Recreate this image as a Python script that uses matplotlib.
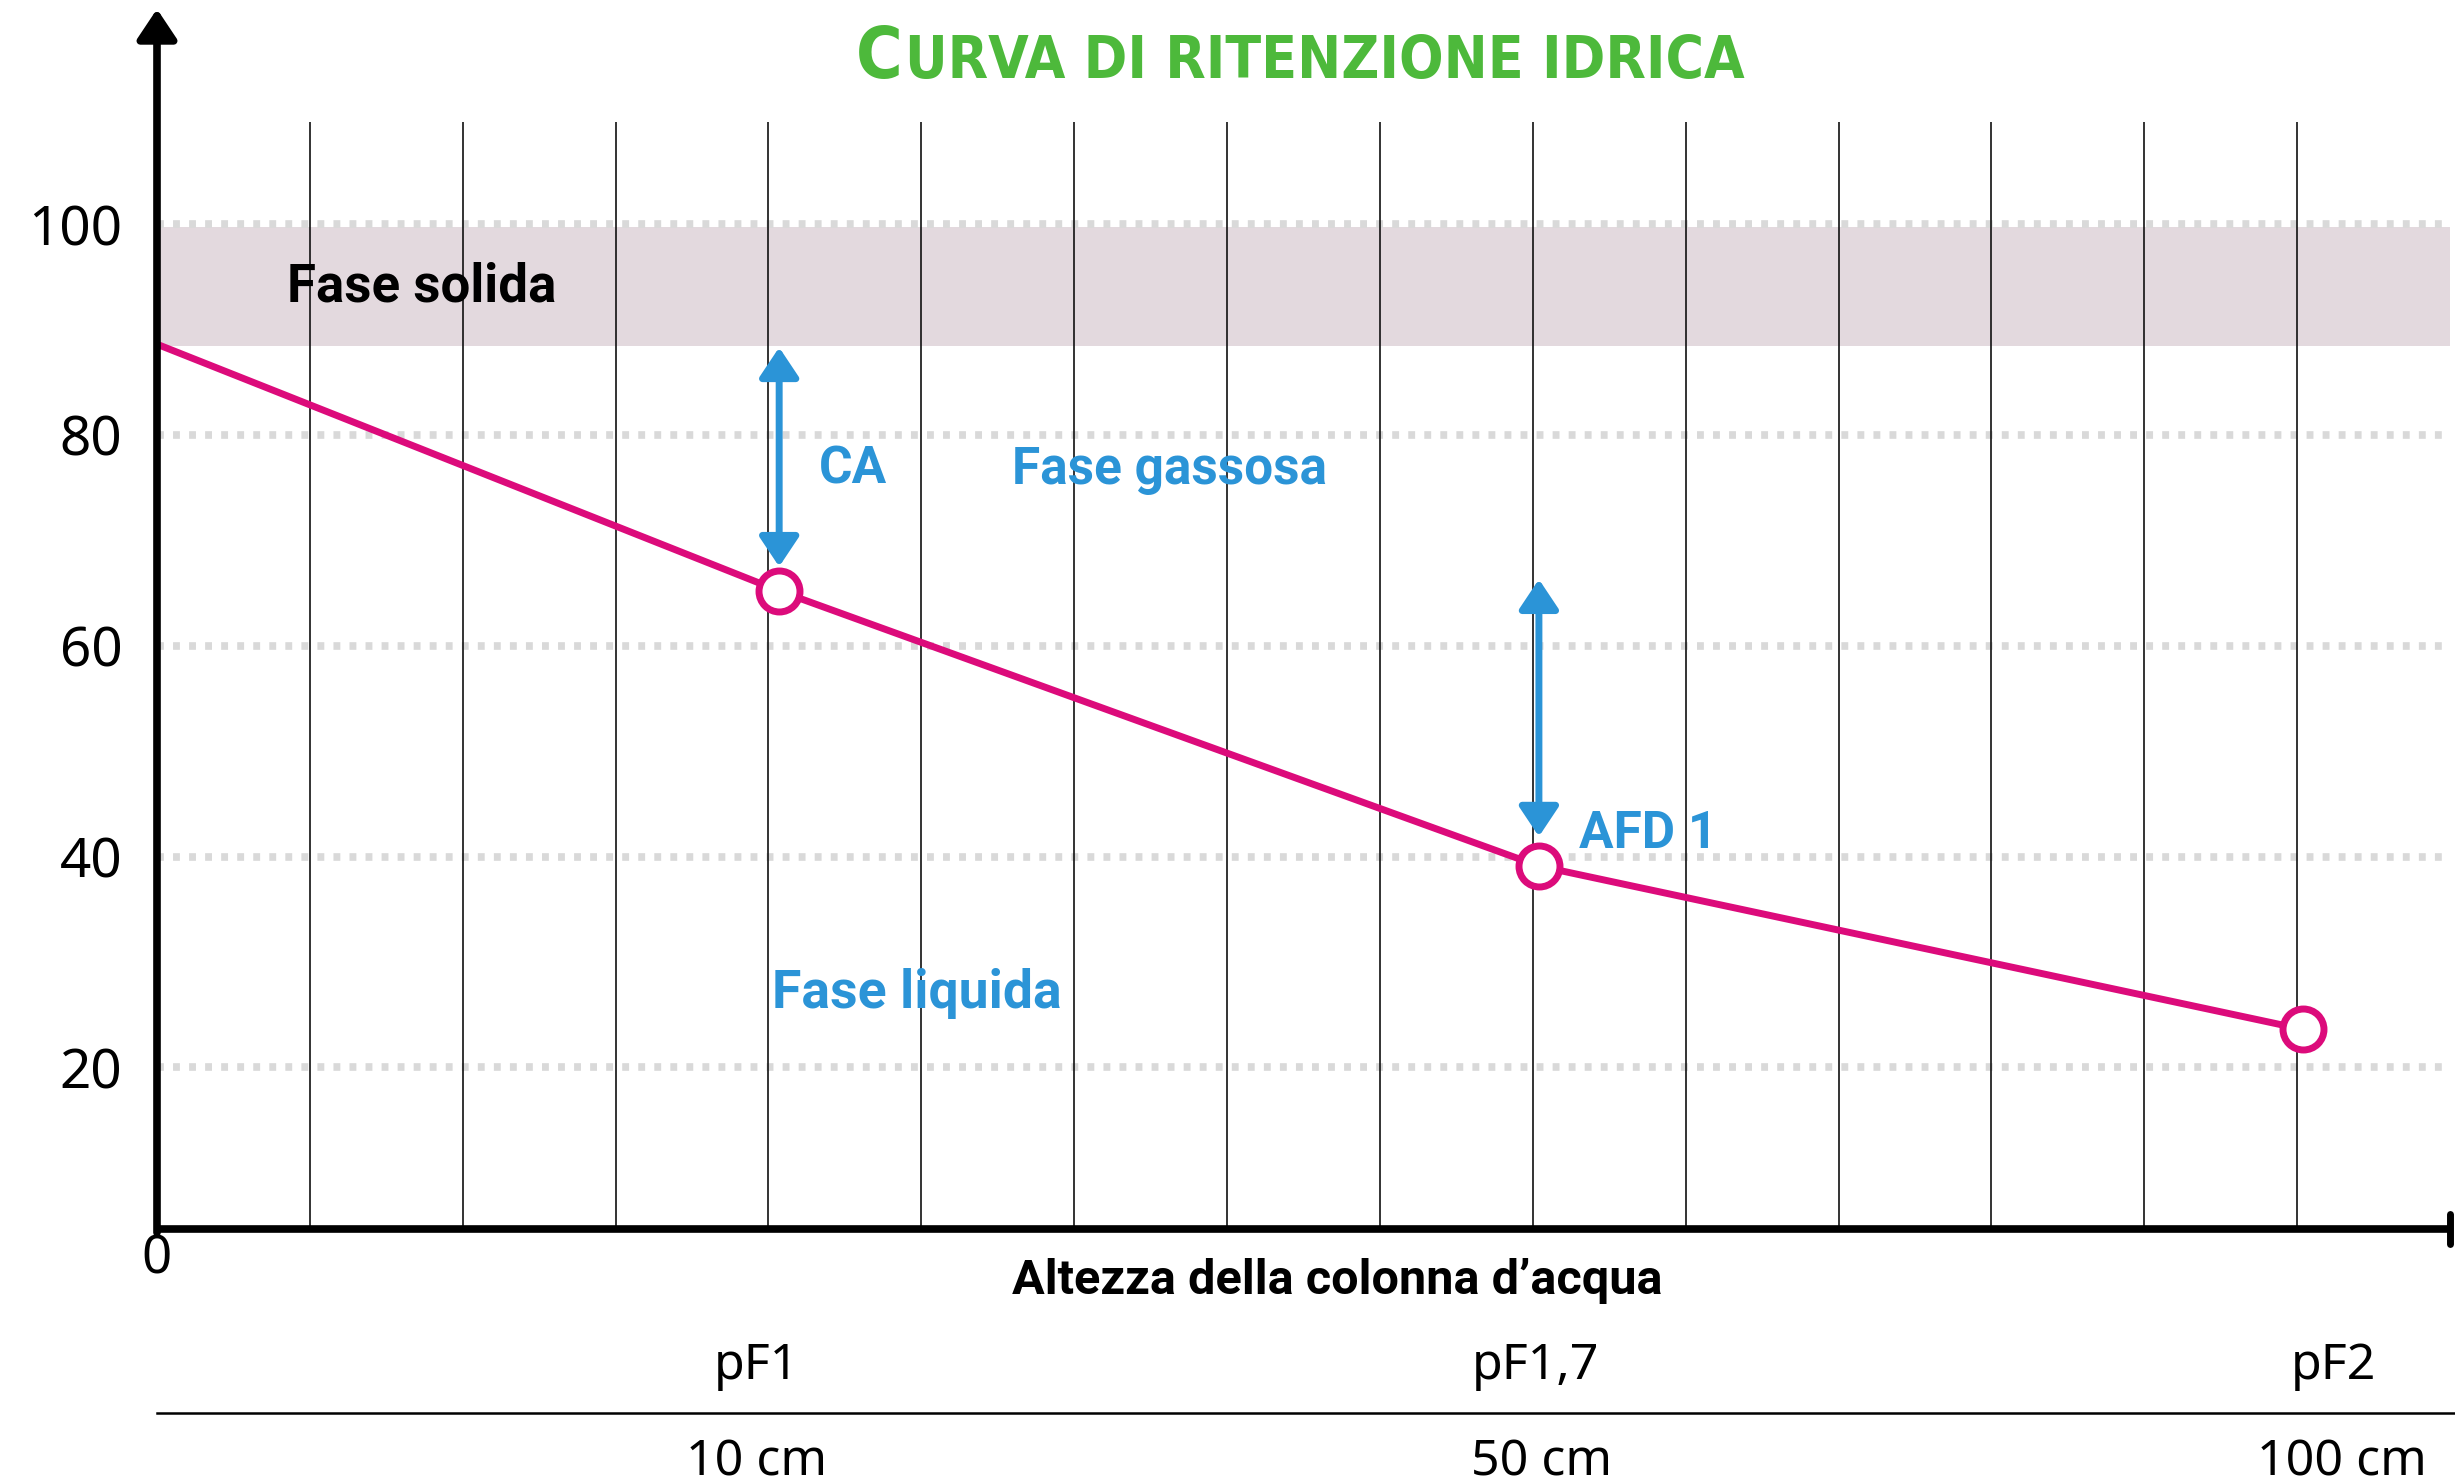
import matplotlib.pyplot as plt
from matplotlib.transforms import blended_transform_factory

# punti della curva (x = posizione sulla griglia, y = % del volume)
curve_x = [0, 4.07, 9.04, 14.04]
curve_y = [88.6, 65.2, 39.1, 23.6]
point_x = curve_x[1:]
point_y = curve_y[1:]

y_ticks = [20, 40, 60, 80, 100]
grid_x = list(range(1, 15))

# fascia della fase solida
solid_low, solid_high = 88.4, 99.7

# frecce (x, y inizio, y fine)
ca_arrow = (4.07, 88.3, 67.5)
afd_arrow = (9.04, 66.3, 41.9)

pf_labels = ["pF1", "pF1,7", "pF2"]
pf_x = [3.92, 9.02, 14.24]
cm_labels = ["10 cm", "50 cm", "100 cm"]
cm_x = [3.92, 9.06, 14.29]

magenta = "#dc0b7b"
blue = "#2b94d7"
green = "#4db93b"
band = "#e3d9de"
ylow, ytop = 4.67, 120.4
xmax = 15.0

bold = ["Roboto", "DejaVu Sans"]
regular = ["Noto Sans", "DejaVu Sans"]

fig = plt.figure(figsize=(24.55, 14.84), dpi=100)
ax = fig.add_axes([157 / 2455, 1 - 1229 / 1484, (2450 - 157) / 2455, (1229 - 9) / 1484])
ax.set_xlim(0, xmax)
ax.set_ylim(ylow, ytop)
for s in ax.spines.values():
    s.set_visible(False)
ax.set_xticks([])
ax.set_yticks(y_ticks)
ax.set_yticklabels([str(v) for v in y_ticks], fontfamily=regular, fontsize=39.5)
ax.tick_params(axis="y", length=0, pad=25)

# fascia solida
ax.fill_between([0, xmax], solid_low, solid_high, color=band, lw=0, zorder=0)

# griglia orizzontale tratteggiata
for v in y_ticks:
    ax.plot([0, xmax], [v, v], color="#d9d9d9", lw=5.5,
            linestyle=(0, (0.9, 1.2)), zorder=1)

# griglia verticale
ax.vlines(grid_x, ylow, 109.7, color="#111111", lw=1.2, zorder=2)

# curva
ax.plot(curve_x, curve_y, color=magenta, lw=5, zorder=3, solid_capstyle="butt")
ax.plot(point_x, point_y, "o", ms=29.5, mfc="white", mec=magenta, mew=5, zorder=4)

# frecce blu
for x, y0, y1 in [ca_arrow, afd_arrow]:
    ax.annotate("", xy=(x, y0), xytext=(x, y1),
                arrowprops=dict(arrowstyle="<|-|>,head_length=0.45,head_width=0.3",
                                mutation_scale=40, lw=5, color=blue,
                                shrinkA=0, shrinkB=0), zorder=5)

# assi
ax.plot([0, xmax], [ylow, ylow], color="black", lw=5.5, clip_on=False,
        solid_capstyle="butt", zorder=6)
ax.plot([xmax, xmax], [ylow - 1.4, ylow + 1.4], color="black", lw=5,
        clip_on=False, solid_capstyle="round", zorder=6)
ax.annotate("", xy=(0, ytop), xytext=(0, ylow - 0.35),
            arrowprops=dict(arrowstyle="-|>,head_length=0.45,head_width=0.3",
                            mutation_scale=40, lw=5.5, color="black",
                            shrinkA=0, shrinkB=0), zorder=6)
ax.annotate("0", xy=(0, ylow), xytext=(0, -22), textcoords="offset points",
            ha="center", va="center", fontsize=38, fontfamily=regular)

# testi
ax.text(0.85, 94.0, "Fase solida", fontsize=38, fontweight="bold",
        fontfamily=bold, va="center", zorder=7)
ax.text(4.33, 76.7, "CA", fontsize=37, fontweight="bold", color=blue,
        fontfamily=bold, va="center", zorder=7)
ax.text(5.59, 76.7, "Fase gassosa", fontsize=37, fontweight="bold", color=blue,
        fontfamily=bold, va="center", zorder=7)
ax.text(9.30, 42.1, "AFD 1", fontsize=37, fontweight="bold", color=blue,
        fontfamily=bold, va="center", zorder=7)
ax.text(4.02, 27.0, "Fase liquida", fontsize=38.5, fontweight="bold", color=blue,
        fontfamily=bold, va="center", zorder=7)

# asce secondarie sotto il grafico
tr = blended_transform_factory(ax.transData, fig.transFigure)
ax.text(7.72, 1 - 1281 / 1484, "Altezza della colonna d\u2019acqua", transform=tr,
        ha="center", va="center", fontsize=35, fontweight="bold", fontfamily=bold)
for x, lab in zip(pf_x, pf_labels):
    ax.text(x, 1 - 1379 / 1484, lab, transform=tr, ha="center", va="baseline",
            fontsize=36, fontfamily=regular)
for x, lab in zip(cm_x, cm_labels):
    ax.text(x, 1 - 1476 / 1484, lab, transform=tr, ha="center", va="baseline",
            fontsize=36, fontfamily=regular)
ax.plot([0, xmax + 0.1], [1 - 1413 / 1484] * 2, transform=tr, color="black",
        lw=1.8, clip_on=False)

# titolo in maiuscoletto
t1 = fig.text(856 / 2455, 1 - 78 / 1484, "C", color=green, fontsize=51,
              fontweight="bold", fontfamily="DejaVu Sans", fontstretch="condensed",
              va="baseline")
fig.canvas.draw()
bb = t1.get_window_extent()
fig.text(bb.x1 / fig.bbox.width + 0.001, 1 - 78 / 1484, "URVA DI RITENZIONE IDRICA",
         color=green, fontsize=42, fontweight="bold", fontfamily="DejaVu Sans",
         fontstretch="condensed", va="baseline")

fig.savefig("out.png", dpi=100)
